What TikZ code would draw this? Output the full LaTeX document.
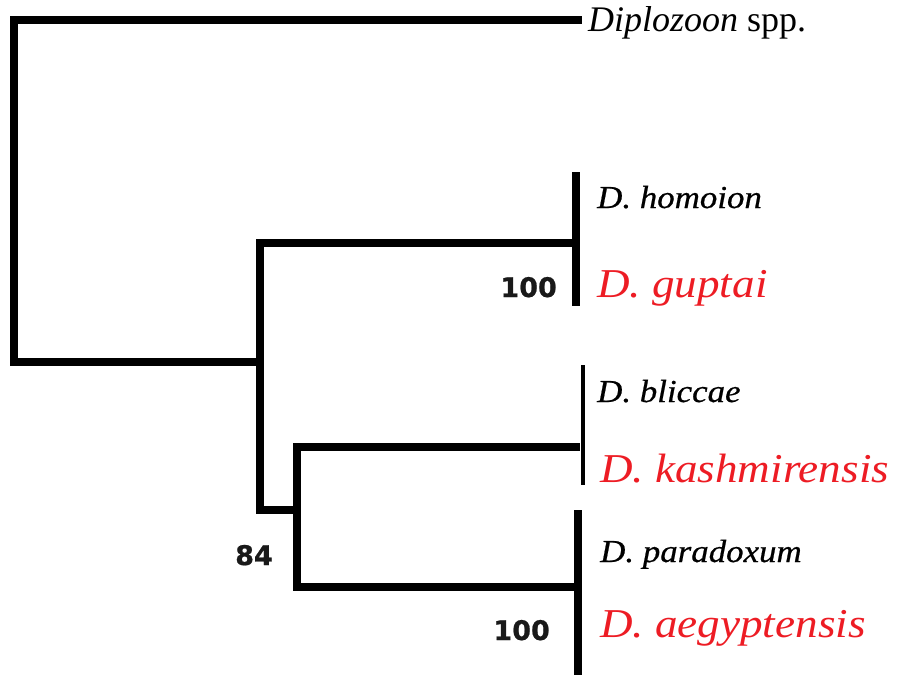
\documentclass[tikz,border=0pt]{standalone}
\usepackage{fontspec}
\setmainfont{Liberation Serif}
\newfontfamily\labelfont[FakeStretch=1.09,FakeBold=0.6]{Liberation Serif}
\newfontfamily\redfont[FakeStretch=1.1]{Liberation Serif}
\newfontfamily\supportfont[FakeBold=0.8]{DejaVu Sans}
\definecolor{newsp}{RGB}{237,28,36}
\definecolor{supp}{RGB}{25,25,25}
\begin{document}
\begin{tikzpicture}[x=1pt,y=-1pt,
  branch/.style={line width=7.5pt, line cap=rect, line join=miter},
  thinbar/.style={line width=4pt, line cap=rect},
  taxon/.style={anchor=base west, inner sep=0pt, font=\labelfont\itshape\fontsize{32}{36}\selectfont},
  newtaxon/.style={anchor=base west, inner sep=0pt, text=newsp, font=\redfont\itshape\fontsize{41}{45}\selectfont},
  support/.style={anchor=base east, inner sep=0pt, text=supp, font=\supportfont\bfseries\fontsize{27}{30}\selectfont}]
\useasboundingbox (0,0) rectangle (899,685);

% tree coordinates
\coordinate (rootT) at (14,20);
\coordinate (rootB) at (14,362);
\coordinate (outg)  at (578,20);
\coordinate (n1)    at (260,362);
\coordinate (n1T)   at (260,243);
\coordinate (n1B)   at (260,510);
\coordinate (n2)    at (297,510);
\coordinate (n2T)   at (297,447);
\coordinate (n2B)   at (297,587);
\coordinate (c1)    at (576,243);
\coordinate (c1T)   at (576,176);
\coordinate (c1B)   at (576,302);
\coordinate (c2)    at (576,447);
\coordinate (c2T)   at (583,367);
\coordinate (c2B)   at (583,483);
\coordinate (c3)    at (578,587);
\coordinate (c3T)   at (578,514);
\coordinate (c3B)   at (578,671);

% branches
\draw[branch] (outg) -- (rootT) -- (rootB) -- (n1);
\draw[branch] (c1) -- (n1T) -- (n1B) -- (n2);
\draw[branch] (c2) -- (n2T) -- (n2B) -- (c3);

% terminal clade bars
\draw[branch] (c1T) -- (c1B);
\draw[thinbar] (c2T) -- (c2B);
\draw[branch] (c3T) -- (c3B);

% taxon labels
\node[taxon, font=\itshape\fontsize{36}{39}\selectfont] (dip) at (588,32) {Diplozoon \upshape spp.};
\node[taxon] (hom) at (597,208) {D. homoion};
\node[newtaxon] (gup) at (597,297) {D. guptai};
\node[taxon] (bli) at (597,402) {D. bliccae};
\node[newtaxon] (kas) at (600,482) {D. kashmirensis};
\node[taxon] (par) at (600,562) {D. paradoxum};
\node[newtaxon] (aeg) at (600,637) {D. aegyptensis};

% bootstrap support
\node[support] (b1) at (557,297) {100};
\node[support] (b2) at (273,565) {84};
\node[support] (b3) at (550,640) {100};
\end{tikzpicture}
\end{document}
